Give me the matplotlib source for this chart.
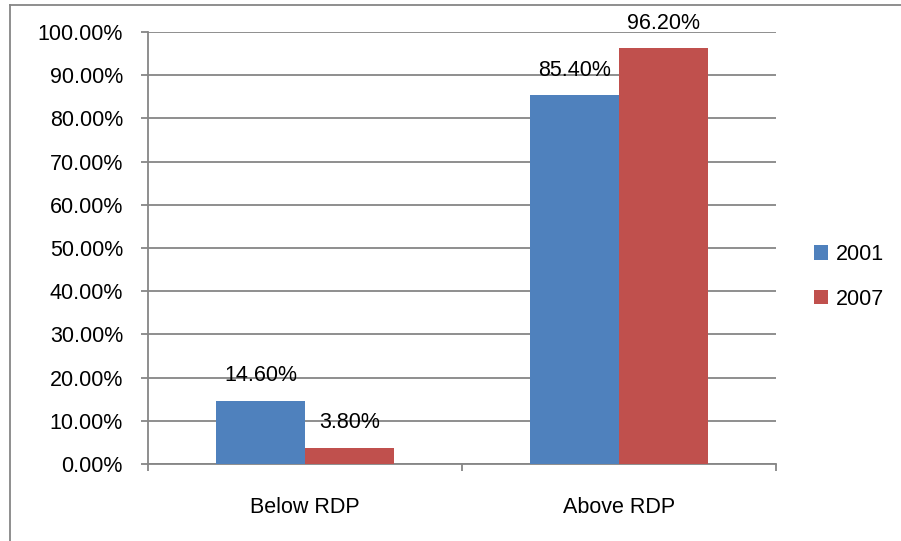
import numpy as np
import matplotlib.pyplot as plt
from matplotlib.lines import Line2D

plt.rcParams['font.family'] = ['Liberation Sans', 'DejaVu Sans']

categories = ['Below RDP', 'Above RDP']
years = ['2001', '2007']
vals_2001 = [14.6, 85.4]
vals_2007 = [3.8, 96.2]
colors = ['#4F81BD', '#C0504D']
grey = '#868686'
fs = 15.5

fig = plt.figure(figsize=(9.01, 5.41), dpi=100)
ax = fig.add_axes([148/901, 77/541, 628/901, 432/541])

x = np.arange(len(categories))
w = 0.283
b1 = ax.bar(x - w/2, vals_2001, w, color=colors[0], label=years[0], zorder=3)
b2 = ax.bar(x + w/2, vals_2007, w, color=colors[1], label=years[1], zorder=3)

for bars, vals in [(b1, vals_2001), (b2, vals_2007)]:
    for r, v in zip(bars, vals):
        ax.annotate('%.2f%%' % v, (r.get_x() + r.get_width()/2, v),
                    xytext=(0, 18), textcoords='offset points',
                    ha='center', va='center', fontsize=fs, color='#000000', zorder=4)

ax.set_xlim(-0.5, 1.5)
ax.set_ylim(0, 100)
ax.set_yticks(np.arange(0, 101, 10))
ax.set_yticklabels(['%.2f%%' % t for t in np.arange(0, 101, 10)])
ax.yaxis.grid(True, color=grey, lw=1.3, zorder=0)
ax.set_xticks([-0.5, 0.5, 1.5])
ax.set_xticklabels([])
ax.set_xticks(x, minor=True)
ax.set_xticklabels(categories, minor=True)
ax.tick_params(axis='x', which='major', direction='out', length=5, width=1.3, color=grey)
ax.tick_params(axis='x', which='minor', length=0, pad=24, labelsize=fs)
ax.tick_params(axis='y', direction='out', length=5, width=1.3, color=grey, pad=13, labelsize=fs)

for s in ['top', 'right']:
    ax.spines[s].set_visible(False)
for s in ['left', 'bottom']:
    ax.spines[s].set_color(grey)
    ax.spines[s].set_linewidth(1.3)

ax.legend(loc='center left', bbox_to_anchor=(1.03, 0.433), frameon=False,
          fontsize=fs, handlelength=0.65, handleheight=0.65, handletextpad=0.35,
          labelspacing=1.1)

# outer chart frame (only left and top edges visible)
fig.add_artist(Line2D([9.5/901, 9.5/901], [0, 1 - 4.5/541], color=grey, lw=1.3,
                      transform=fig.transFigure))
fig.add_artist(Line2D([9.5/901, 1], [1 - 4.5/541, 1 - 4.5/541], color=grey, lw=1.3,
                      transform=fig.transFigure))

fig.savefig('out.png', dpi=100)
